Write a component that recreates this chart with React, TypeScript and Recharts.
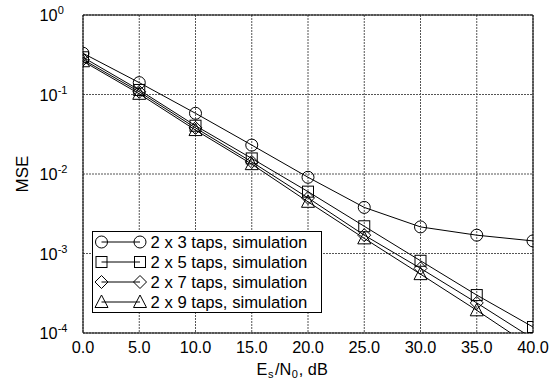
import React from "react";
import { LineChart, Line, XAxis, YAxis, CartesianGrid, Legend } from "recharts";

const FONT = "Arial, 'Liberation Sans', Helvetica, sans-serif";

// Es/N0 in dB
const snrDb = [0, 5, 10, 15, 20, 25, 30, 35, 40];

// MSE per equaliser length
const taps3 = [0.33, 0.141, 0.058, 0.0231, 0.0091, 0.0038, 0.00216, 0.0017, 0.00144];
const taps5 = [0.294, 0.114, 0.0405, 0.0157, 0.006, 0.0022, 0.00081, 0.0003, 0.000119];
const taps7 = [0.275, 0.108, 0.038, 0.0142, 0.005, 0.0017, 0.00065, 0.000239, 0.000085];
const taps9 = [0.262, 0.102, 0.0357, 0.0133, 0.00447, 0.00155, 0.00055, 0.000193, 0.000065];

const seriesNames = [
  "2 x 3 taps, simulation",
  "2 x 5 taps, simulation",
  "2 x 7 taps, simulation",
  "2 x 9 taps, simulation",
];
const seriesKeys = ["t3", "t5", "t7", "t9"];
const markerKinds = ["circle", "square", "diamond", "triangle"];

const xMajorTicks = [0, 5, 10, 15, 20, 25, 30, 35, 40];
const yDecades = [1e-4, 1e-3, 1e-2, 1e-1, 1];

const rows = snrDb.map((snr, i) => ({
  snr,
  t3: taps3[i],
  t5: taps5[i],
  t7: taps7[i],
  t9: taps9[i],
}));

// minor tick positions for the frame
const xMinorTicks = Array.from({ length: 41 }, (_, i) => i);
const yMinorTicks: number[] = [];
for (let e = -4; e < 0; e++) {
  for (let m = 1; m < 10; m++) yMinorTicks.push(m * Math.pow(10, e));
}
yMinorTicks.push(1);

function Marker({ cx, cy, kind }: any) {
  if (cx == null || cy == null) return null;
  const s = { fill: "none", stroke: "#000", strokeWidth: 1 };
  if (kind === "circle") return <circle cx={cx} cy={cy} r={6} {...s} />;
  if (kind === "square")
    return <rect x={cx - 5.5} y={cy - 5.5} width={11} height={11} {...s} />;
  if (kind === "diamond")
    return (
      <path
        d={`M${cx},${cy - 6.5}L${cx + 6.5},${cy}L${cx},${cy + 6.5}L${cx - 6.5},${cy}Z`}
        {...s}
      />
    );
  return (
    <path d={`M${cx},${cy - 7}L${cx + 6.5},${cy + 5.5}L${cx - 6.5},${cy + 5.5}Z`} {...s} />
  );
}

function XTick({ x, y, payload }: any) {
  return (
    <text x={x} y={y + 20} textAnchor="middle" fontSize={16.3} fill="#000" fontFamily={FONT}>
      {Number(payload.value).toFixed(1)}
    </text>
  );
}

function YTick({ x, y, payload }: any) {
  const exp = Math.round(Math.log10(payload.value));
  return (
    <text x={x - 43.5} y={y + 6} textAnchor="start" fontSize={16.3} fill="#000" fontFamily={FONT}>
      <tspan>10</tspan>
      <tspan dy={-7} fontSize={11}>
        {String(exp)}
      </tspan>
    </text>
  );
}

function XTitle({ viewBox }: any) {
  const y = viewBox.y + 42;
  return (
    <text x={256.5} y={y} fontSize={16.3} fill="#000" fontFamily={FONT}>
      <tspan>E</tspan>
      <tspan dy={3} dx={0.5} fontSize={11}>s</tspan>
      <tspan dy={-3} dx={1.5}>/N</tspan>
      <tspan dy={3} dx={0.5} fontSize={11}>0</tspan>
      <tspan dy={-3} dx={1}>, dB</tspan>
    </text>
  );
}

function YTitle({ viewBox }: any) {
  const x = viewBox.x + 27.5;
  const y = viewBox.y + viewBox.height / 2;
  return (
    <text
      x={x}
      y={y}
      transform={`rotate(-90 ${x} ${y})`}
      textAnchor="middle"
      fontSize={17}
      fill="#000"
      fontFamily={FONT}
    >
      MSE
    </text>
  );
}

function LegendBox() {
  return (
    <svg width={231} height={83} style={{ display: "block" }}>
      <rect x={0.5} y={0.5} width={229} height={81} fill="#fff" stroke="#000" />
      {seriesNames.map((name, i) => {
        const cy = 11 + i * 20;
        return (
          <g key={name}>
            <line x1={9.5} x2={48} y1={cy} y2={cy} stroke="#000" />
            <Marker cx={9.5} cy={cy} kind={markerKinds[i]} />
            <Marker cx={48} cy={cy} kind={markerKinds[i]} />
            <text x={58.5} y={cy + 5.5} fontSize={16.7} fill="#000" fontFamily={FONT}>
              {name}
            </text>
          </g>
        );
      })}
    </svg>
  );
}

export default function App() {
  return (
    <div
      style={{
        position: "absolute",
        left: 0,
        top: 0,
        width: 554,
        height: 381,
        background: "#fff",
        fontFamily: FONT,
      }}
    >
      <LineChart
        width={554}
        height={381}
        data={rows}
        margin={{ top: 15, right: 21, bottom: 0, left: 0 }}
      >
        <CartesianGrid xAxisId="x" yAxisId="y" stroke="#555" strokeDasharray="2 1" />
        <XAxis
          xAxisId="x"
          dataKey="snr"
          type="number"
          domain={[0, 40]}
          allowDataOverflow
          ticks={xMajorTicks}
          height={48}
          tickSize={0}
          tickMargin={0}
          tickLine={false}
          axisLine={{ stroke: "#000" }}
          tick={<XTick />}
          label={(p: any) => <XTitle {...p} />}
        />
        <XAxis
          xAxisId="xb"
          dataKey="snr"
          type="number"
          orientation="bottom"
          mirror
          domain={[0, 40]}
          allowDataOverflow
          ticks={xMinorTicks}
          tick={false}
          tickSize={4}
          tickLine={{ stroke: "#000" }}
          axisLine={false}
        />
        <XAxis
          xAxisId="xt"
          dataKey="snr"
          type="number"
          orientation="top"
          mirror
          domain={[0, 40]}
          allowDataOverflow
          ticks={xMinorTicks}
          tick={false}
          tickSize={4}
          tickLine={{ stroke: "#000" }}
          axisLine={{ stroke: "#000" }}
        />
        <YAxis
          yAxisId="y"
          scale="log"
          type="number"
          domain={[1e-4, 1]}
          allowDataOverflow
          ticks={yDecades}
          width={83}
          tickSize={0}
          tickMargin={0}
          tickLine={false}
          axisLine={{ stroke: "#000" }}
          tick={<YTick />}
          label={(p: any) => <YTitle {...p} />}
        />
        <YAxis
          yAxisId="yl"
          scale="log"
          type="number"
          mirror
          domain={[1e-4, 1]}
          allowDataOverflow
          ticks={yMinorTicks}
          tick={false}
          tickSize={4}
          tickLine={{ stroke: "#000" }}
          axisLine={false}
        />
        <YAxis
          yAxisId="yr"
          orientation="right"
          scale="log"
          type="number"
          mirror
          domain={[1e-4, 1]}
          allowDataOverflow
          ticks={yMinorTicks}
          tick={false}
          tickSize={4}
          tickLine={{ stroke: "#000" }}
          axisLine={{ stroke: "#000" }}
        />
        {seriesKeys.map((key, i) => (
          <Line
            key={key}
            xAxisId="x"
            yAxisId="y"
            dataKey={key}
            name={seriesNames[i]}
            stroke="#000"
            strokeWidth={1}
            dot={<Marker kind={markerKinds[i]} r={7} strokeWidth={2} />}
            activeDot={false}
            isAnimationActive={false}
          />
        ))}
        <Legend
          layout="horizontal"
          verticalAlign="middle"
          align="center"
          content={() => <LegendBox />}
          wrapperStyle={{ left: 92, top: 231, width: 231, height: 83 }}
        />
      </LineChart>
    </div>
  );
}
